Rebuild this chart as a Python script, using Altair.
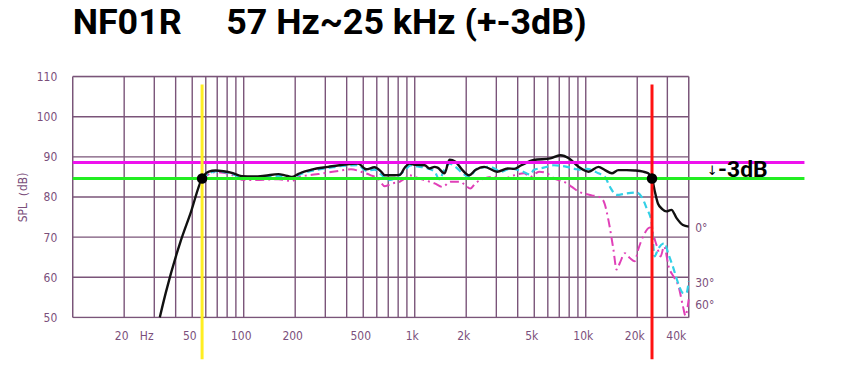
import altair as alt
import pandas as pd

# ---------------- data ----------------
title_text = "NF01R\u00a0\u00a0\u00a0\u00a0 57 Hz~25 kHz (+-3dB)"

# 0 degree (black)
f0 = [32.3, 35.0, 42.7, 48.9, 57.1, 62.5, 68.3, 76.3, 85.3, 97.5, 114, 133, 159.5, 174, 191, 208, 218, 249,
      312, 390, 466, 521, 582, 636, 669, 764, 817, 874, 935, 1013, 1143, 1222, 1306, 1360, 1494, 1597, 1730,
      1900, 2078, 2262, 2552, 3038, 3500, 3814, 4200, 4966, 6203, 7092, 8000, 9100, 10400, 11862, 12956,
      14200, 15508, 17332, 19366, 21674, 23176, 24400, 25300, 26460, 28000, 29600, 31700, 33900, 37000, 40000]
v0 = [50.0, 56.1, 68.9, 76.0, 84.6, 86.3, 86.6, 86.4, 86.0, 85.2, 85.1, 85.3, 85.7, 85.4, 85.0, 85.7, 86.1, 86.8,
      87.5, 88.1, 88.3, 86.9, 87.4, 86.3, 85.4, 85.4, 85.5, 87.3, 88.3, 88.0, 87.9, 87.1, 87.5, 87.3, 85.9, 89.3, 88.8,
      86.7, 85.4, 86.7, 87.5, 86.3, 87.1, 87.0, 87.9, 89.2, 89.6, 90.4, 89.6, 87.5, 86.3, 87.5, 86.7,
      85.9, 86.7, 86.7, 86.6, 86.3, 85.9, 84.6, 81.5, 78.3, 77.0, 76.4, 76.8, 74.8, 73.0, 72.6]

# 30 degree (cyan dashed)
f30 = [57.1, 68.3, 85.3, 97.5, 133, 174, 191, 218, 249, 312, 390, 466, 521, 582, 636, 696, 764, 870, 951, 1040,
       1143, 1306, 1392, 1494, 1597, 1730, 1900, 2078, 2324, 2760, 3200, 3630, 4300, 4728, 4966, 5680, 6493, 7758,
       8872, 9702, 10142, 11862, 12956, 13856, 15158, 17332, 19800, 21180, 22700, 24220, 25280, 26460, 28940,
       30300, 32400, 34640, 37000, 38720, 40000]
v30 = [84.5, 86.4, 85.8, 84.9, 85.0, 85.2, 84.8, 85.8, 86.5, 87.2, 87.8, 87.9, 86.5, 86.8, 85.6, 84.2, 84.6, 86.6, 87.9, 87.6,
       87.3, 86.3, 84.4, 86.9, 88.3, 87.5, 85.9, 85.0, 87.1, 87.5, 86.3, 87.1, 86.3, 85.6, 86.7, 87.3, 87.9, 87.5,
       86.9, 86.7, 87.0, 85.9, 85.0, 82.5, 80.5, 80.9, 81.1, 80.1, 77.2, 73.9, 65.2, 67.0, 68.5,
       66.0, 62.5, 58.6, 56.1, 56.0, 59.0]

# 60 degree (pink dash-dot)
f60 = [57.1, 68.3, 85.3, 97.5, 114, 159.5, 191, 208, 238, 273, 324, 371, 424, 485, 554, 609, 669, 744, 817, 874,
       935, 1013, 1143, 1306, 1454, 1618, 1850, 1952, 2116, 2262, 2552, 2917, 3337, 3814, 4362, 4728, 5334, 5937,
       6519, 7452, 8297, 9112, 9871, 10846, 11862, 12700, 13562, 14502, 15158, 15844, 16942, 18114, 19366, 20268,
       21674, 23700, 25900, 27400, 28700, 30600, 32800, 35000, 37000, 38300, 39200, 40000]
v60 = [84.4, 86.2, 85.5, 84.3, 84.2, 84.4, 84.0, 84.9, 85.4, 85.7, 86.2, 86.6, 86.9, 86.3, 85.4, 84.6, 82.7, 83.4, 83.8, 84.6,
       85.4, 84.9, 84.2, 83.4, 82.5, 83.8, 83.8, 83.1, 82.1, 83.4, 84.6, 85.0, 84.6, 85.4, 85.9, 85.0, 86.3, 85.9,
       84.6, 83.8, 82.5, 81.3, 80.8, 80.4, 80.1, 79.0, 74.3, 67.0, 61.9, 63.6, 66.0, 64.8, 64.0, 66.9,
       70.2, 72.4, 68.1, 65.2, 67.7, 62.5, 60.0, 57.5, 52.8, 50.4, 52.0, 54.5]

# grid
grid_freqs = [10, 20, 30, 40, 50, 60, 70, 80, 90, 100, 200, 300, 400, 500, 600, 700, 800, 900,
              1000, 2000, 3000, 4000, 5000, 6000, 7000, 8000, 9000, 10000, 20000, 30000, 40000]
grid_levels = [50, 60, 70, 80, 90, 100, 110]

# axis labels
x_label_vals = [20, 28, 50, 100, 200, 500, 1000, 2000, 5000, 10000, 20000, 40000]
x_label_txt = ["20", "Hz", "50", "100", "200", "500", "1k", "2k", "5k", "10k", "20k", "40k"]

# reference lines
ref_levels = [88.6, 84.6]          # magenta (0 dB ref), green (-3 dB)
ref_colors = ["#ee11ee", "#22ee22"]
ref_span = [10, 190000]
cut_freqs = [57.1, 24400]          # yellow, red
cut_colors = ["#ffee22", "#ff1111"]
cut_span = [108, 39.6]
cut_levels = [84.6, 84.6]

# annotations
angle_txt = ["0°", "30°", "60°"]
angle_lvl = [72.2, 58.6, 53.2]
angle_f = [43700, 43700, 43700]

# ---------------- chart ----------------
GRID = "#7a5479"
LBL = "#7b4f7b"
FONT = "DejaVu Sans Condensed, Liberation Sans Narrow, Roboto, sans-serif"
BOLD = "Roboto, DejaVu Sans Condensed, sans-serif"

xs = alt.Scale(type="log", domain=[10, 40000], nice=False)
ys = alt.Scale(domain=[50, 110], nice=False, zero=False)

label_expr = "[" + ",".join("'%s'" % t for t in x_label_txt) + "][indexof([" + \
             ",".join(str(v) for v in x_label_vals) + "], datum.value)]"

x_axis = alt.Axis(values=x_label_vals, labelExpr=label_expr, grid=False, ticks=False, domain=False,
                  labelColor=LBL, labelFont=FONT, labelFontSize=12, labelPadding=13, labelOffset=-3,
                  labelFlush=5, labelOverlap=False, title=None)
y_axis = alt.Axis(values=grid_levels, grid=False, ticks=False, domain=False, labelColor=LBL,
                  labelFont=FONT, labelFontSize=12, labelPadding=16, title="SPL（dB)",
                  titleColor=LBL, titleFont=FONT, titleFontSize=12, titleFontWeight="normal",
                  titlePadding=7)


def X(field):
    return alt.X(field, type="quantitative", scale=xs, axis=x_axis)


def Y(field):
    return alt.Y(field, type="quantitative", scale=ys, axis=y_axis)


vgrid = alt.Chart(pd.DataFrame({"f": grid_freqs})).mark_rule(color=GRID, strokeWidth=1.4).encode(x=X("f"))
hgrid = alt.Chart(pd.DataFrame({"v": grid_levels})).mark_rule(color=GRID, strokeWidth=1.4).encode(y=Y("v"))


def curve(f, v, color, dash, width):
    df = pd.DataFrame({"f": f, "v": v})
    kw = dict(color=color, strokeWidth=width, interpolate="monotone")
    if dash:
        kw["strokeDash"] = dash
    return alt.Chart(df).mark_line(**kw).encode(x=X("f"), y=Y("v"))


c60 = curve(f60, v60, "#e040b8", [9, 4, 2, 4], 2)
c30 = curve(f30, v30, "#33d0e6", [7, 4], 2.2)
c0 = curve(f0, v0, "#111111", None, 2.4)

refs = alt.Chart(pd.DataFrame({"v": ref_levels, "c": ref_colors,
                               "f1": [ref_span[0]] * 2, "f2": [ref_span[1]] * 2})).mark_rule(
    strokeWidth=3).encode(x=X("f1"), x2="f2:Q", y=Y("v"), color=alt.Color("c:N", scale=None))

cuts = alt.Chart(pd.DataFrame({"f": cut_freqs, "c": cut_colors,
                               "v1": [cut_span[0]] * 2, "v2": [cut_span[1]] * 2})).mark_rule(
    strokeWidth=3).encode(x=X("f"), y=Y("v1"), y2="v2:Q", color=alt.Color("c:N", scale=None))

dots = alt.Chart(pd.DataFrame({"f": cut_freqs, "v": cut_levels})).mark_circle(
    color="black", size=110, opacity=1).encode(x=X("f"), y=Y("v"))

angles = alt.Chart(pd.DataFrame({"t": angle_txt, "v": angle_lvl, "f": angle_f})).mark_text(
    align="left", baseline="middle", color=LBL, font=FONT, fontSize=12).encode(
    x=X("f"), y=Y("v"), text="t:N")

arrow = alt.Chart(pd.DataFrame({"t": ["↓"], "f": [54800], "v": [86.4]})).mark_text(
    align="center", baseline="middle", color="black", font="DejaVu Sans", fontSize=13).encode(
    x=X("f"), y=Y("v"), text="t:N")
m3db = alt.Chart(pd.DataFrame({"t": ["-3dB"], "f": [59400], "v": [86.6]})).mark_text(
    align="left", baseline="middle", color="black", font=BOLD, fontSize=23, fontWeight="bold").encode(
    x=X("f"), y=Y("v"), text="t:N")

chart = alt.layer(vgrid, hgrid, c60, c30, c0, refs, cuts, dots, angles, arrow, m3db).properties(
    width=619, height=242,
    title=alt.TitleParams(text=title_text, anchor="start", frame="group", font=BOLD, fontSize=36,
                          fontWeight="bold", color="black", offset=29),
    autosize=alt.AutoSizeParams(type="none"),
    padding={"left": 65, "top": 68, "right": 150, "bottom": 58},
).configure_view(stroke=None).configure(background="white")

chart.save("out.html", embed_options={"renderer": "svg", "actions": False})
